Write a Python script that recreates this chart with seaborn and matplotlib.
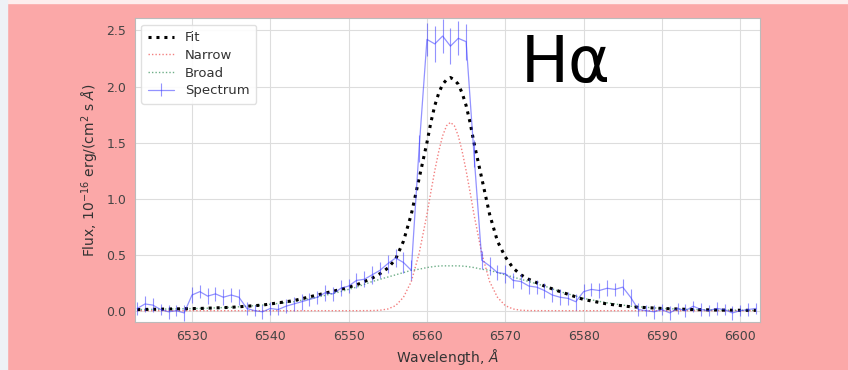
import numpy as np
import pandas as pd
import matplotlib
matplotlib.use("Agg")
import matplotlib.pyplot as plt
import seaborn as sns
from matplotlib.patches import Rectangle

# Observed spectrum (1 Angstrom sampling)
spec_wave = list(range(6523, 6603))
spec_flux = [
    0.02, 0.06, 0.05, 0.01, -0.01, 0.00, -0.02,            # 6523-6529
    0.14, 0.17, 0.13, 0.15, 0.12, 0.14, 0.12,               # 6530-6536
    0.02, 0.00, -0.01, 0.02, 0.01, 0.04, 0.06, 0.08, 0.10,  # 6537-6545
    0.12, 0.16, 0.15, 0.20, 0.22, 0.27, 0.28, 0.32, 0.36,   # 6546-6554
    0.42, 0.47, 0.43, 0.36, 1.45,                           # 6555-6559
    2.42, 2.38, 2.45, 2.36, 2.43, 2.40,                     # 6560-6565
    1.40, 0.45, 0.40, 0.34, 0.33, 0.27, 0.26, 0.22, 0.21,   # 6566-6574
    0.18, 0.14, 0.12, 0.11, 0.08,                           # 6575-6579
    0.17, 0.19, 0.18, 0.20, 0.19, 0.21, 0.12,               # 6580-6586
    0.01, 0.00, -0.01, 0.01, -0.02, 0.02, 0.00, 0.04,       # 6587-6594
    0.01, 0.00, 0.02, 0.01, -0.02, 0.00, 0.01, 0.02,        # 6595-6602
]
spec_err = [
    0.06, 0.07, 0.06, 0.05, 0.06, 0.05, 0.07,
    0.07, 0.06, 0.07, 0.06, 0.07, 0.06, 0.07,
    0.06, 0.05, 0.06, 0.06, 0.05, 0.06, 0.06, 0.07, 0.06,
    0.06, 0.07, 0.06, 0.07, 0.06, 0.07, 0.07, 0.08, 0.07,
    0.08, 0.08, 0.09, 0.09, 0.12,
    0.15, 0.16, 0.15, 0.16, 0.15, 0.16,
    0.12, 0.08, 0.08, 0.07, 0.08, 0.07, 0.07, 0.07, 0.06,
    0.07, 0.06, 0.07, 0.06, 0.07,
    0.07, 0.06, 0.07, 0.07, 0.06, 0.07, 0.07,
    0.06, 0.05, 0.06, 0.05, 0.06, 0.05, 0.06, 0.05,
    0.06, 0.05, 0.06, 0.05, 0.06, 0.05, 0.06, 0.05,
]

# Model components
model_wave = [6523, 6527, 6531, 6535, 6539, 6543, 6546, 6549, 6551, 6553,
              6554, 6555, 6556, 6557, 6558, 6559, 6560,
              6560.5, 6561, 6561.5, 6562, 6562.5, 6563, 6563.5, 6564,
              6564.5, 6565, 6565.5, 6566,
              6567, 6568, 6569, 6570, 6571, 6572, 6573,
              6575, 6577, 6580, 6583, 6586, 6590, 6594, 6598, 6602]
fit_flux = [0.01, 0.015, 0.02, 0.03, 0.05, 0.09, 0.14, 0.19, 0.23, 0.29,
            0.33, 0.38, 0.46, 0.62, 0.86, 1.18, 1.50,
            1.68, 1.83, 1.94, 2.02, 2.06, 2.08, 2.06, 2.02,
            1.94, 1.83, 1.68, 1.50,
            1.18, 0.86, 0.62, 0.48, 0.38, 0.32, 0.28,
            0.22, 0.17, 0.10, 0.06, 0.035, 0.02, 0.01, 0.005, 0.003]
narrow_flux = [0.0, 0.0, 0.0, 0.0, 0.0, 0.0, 0.0, 0.0, 0.0, 0.001,
               0.004, 0.015, 0.045, 0.12, 0.26, 0.51, 0.86,
               1.06, 1.25, 1.42, 1.56, 1.65, 1.68, 1.65, 1.56,
               1.42, 1.25, 1.06, 0.86,
               0.51, 0.26, 0.12, 0.045, 0.015, 0.004, 0.001,
               0.0, 0.0, 0.0, 0.0, 0.0, 0.0, 0.0, 0.0, 0.0]
broad_flux = [0.01, 0.015, 0.02, 0.03, 0.05, 0.08, 0.12, 0.17, 0.21, 0.26,
              0.28, 0.30, 0.32, 0.34, 0.36, 0.37, 0.385,
              0.39, 0.395, 0.398, 0.40, 0.40, 0.40, 0.40, 0.40,
              0.398, 0.395, 0.39, 0.385,
              0.37, 0.36, 0.34, 0.32, 0.30, 0.28, 0.26,
              0.22, 0.17, 0.11, 0.07, 0.04, 0.02, 0.01, 0.005, 0.003]

x_ticks = [6530, 6540, 6550, 6560, 6570, 6580, 6590, 6600]
y_ticks = [0.0, 0.5, 1.0, 1.5, 2.0, 2.5]

models = pd.DataFrame({"wave": model_wave, "fit": fit_flux,
                       "narrow": narrow_flux, "broad": broad_flux})

sns.set_style("whitegrid", {"grid.color": "#dddddd", "axes.edgecolor": "#bbbbbb"})
plt.rcParams["font.family"] = ["DejaVu Sans"]

fig = plt.figure(figsize=(8.48, 3.70), dpi=100)
fig.patch.set_facecolor("#fba8a8")
fig.patches.append(Rectangle((0, 0.992), 1, 0.008, transform=fig.transFigure,
                             color="#fdeeee", zorder=0))
fig.patches.append(Rectangle((0, 0), 0.008, 1, transform=fig.transFigure,
                             color="#eef1f6", zorder=0))
ax = fig.add_axes([0.159, 0.130, 0.737, 0.821])
ax.set_facecolor("white")

sns.lineplot(data=models, x="wave", y="fit", ax=ax, color="black",
             linestyle=(0, (1, 1.6)), linewidth=2.2, label="Fit", zorder=3)
sns.lineplot(data=models, x="wave", y="narrow", ax=ax, color="#f06060",
             linestyle=(0, (1, 1.5)), linewidth=1.0, alpha=0.8,
             label="Narrow", zorder=2)
sns.lineplot(data=models, x="wave", y="broad", ax=ax, color="#4a9a6a",
             linestyle=(0, (1, 1.5)), linewidth=1.0, alpha=0.8,
             label="Broad", zorder=2)
ax.errorbar(spec_wave, spec_flux, yerr=spec_err, color="#3a3aff",
            alpha=0.55, linewidth=0.9, elinewidth=0.8, label="Spectrum",
            zorder=4)

ax.set_xlim(6522.7, 6602.5)
ax.set_ylim(-0.1, 2.61)
ax.set_xticks(x_ticks)
ax.set_yticks(y_ticks)
ax.set_yticklabels([f"{v:.1f}" for v in y_ticks])
ax.tick_params(labelsize=9, colors="#444444", length=0, pad=6)
ax.set_xlabel(r"Wavelength, $\AA$", fontsize=10, color="#333333", labelpad=3)
ax.set_ylabel(r"Flux, $10^{-16}$ erg/(cm$^2$ s $\AA$)", fontsize=10,
              color="#333333", labelpad=4)

leg = ax.legend(loc="upper left", fontsize=9.5, frameon=True, framealpha=0.9,
                edgecolor="#dddddd", borderpad=0.5, handlelength=2.0,
                labelspacing=0.35)
for t in leg.get_texts():
    t.set_color("#333333")

ax.text(0.617, 0.79, "Hα", transform=ax.transAxes, fontsize=46,
        color="black", ha="left", va="baseline")

fig.savefig("out.png", dpi=100, facecolor=fig.get_facecolor())
